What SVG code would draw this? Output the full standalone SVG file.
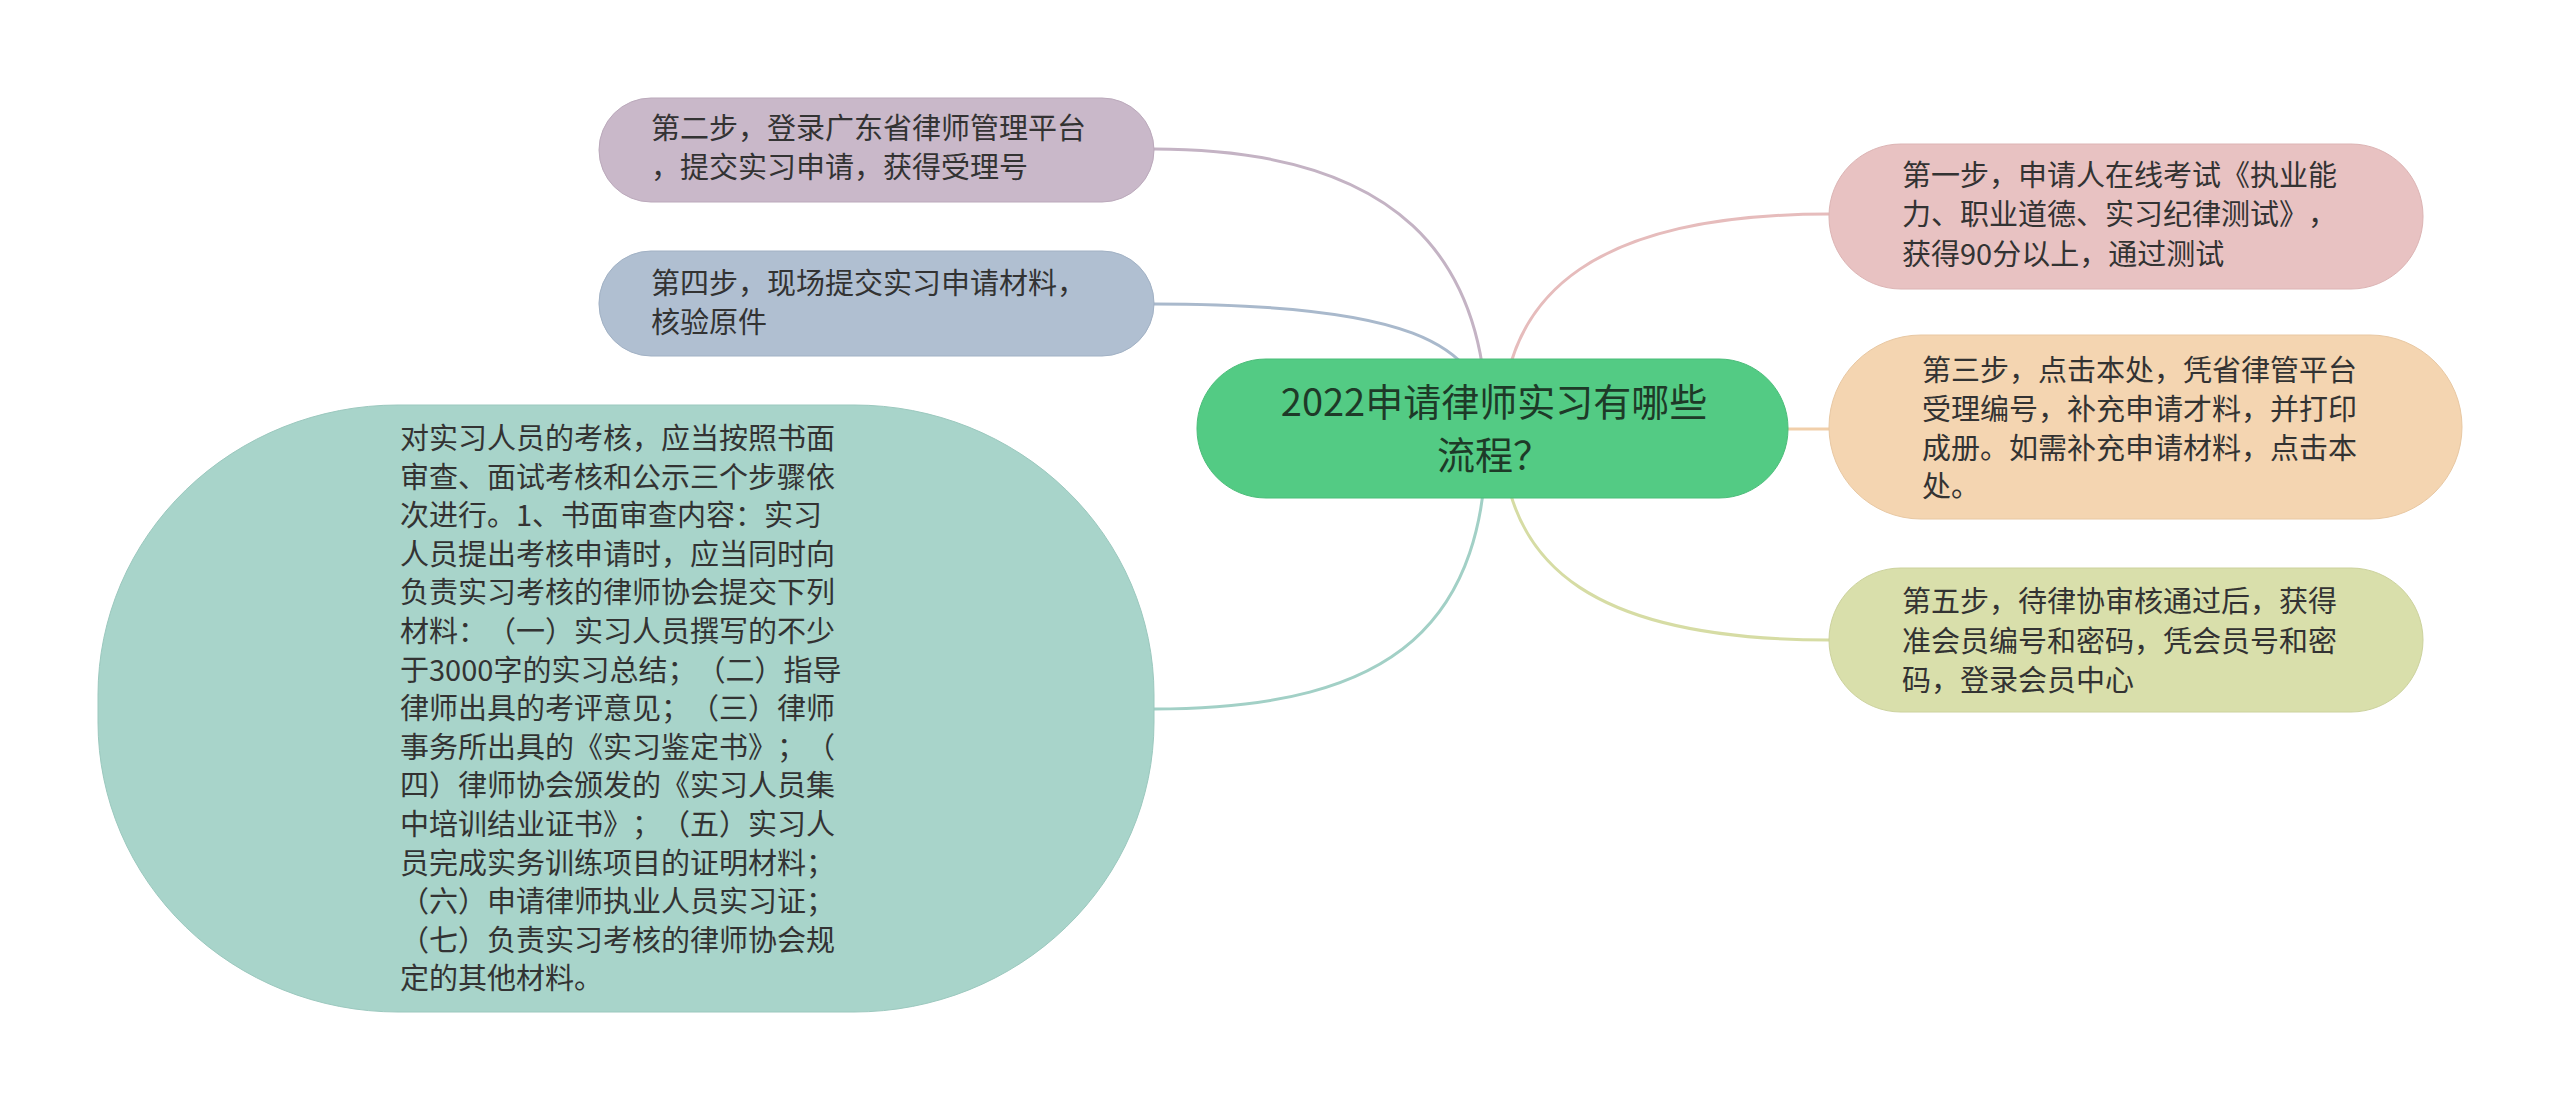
<svg xmlns="http://www.w3.org/2000/svg" width="2560" height="1109" viewBox="0 0 2560 1109">
<style>
text{text-spacing-trim:space-all;font-feature-settings:"chws" 0,"halt" 0;}
.t{font-family:"Noto Sans CJK SC","Noto Sans",sans-serif;font-size:29px;fill:#333333;}
.r{font-family:"Noto Sans CJK SC","Noto Sans",sans-serif;font-size:38px;fill:#1e3a28;text-anchor:middle;}
.c{fill:none;stroke-width:3;}
</style>
<rect x="0" y="0" width="2560" height="1109" fill="#ffffff"/>
<g id="connectors">
<path class="c" stroke="#c4b3c4" d="M1487,429 C1487,260 1400,149 1154,149"/>
<path class="c" stroke="#a9b9cc" d="M1487,429 C1487,340 1400,304 1154,304"/>
<path class="c" stroke="#a2d0c6" d="M1487,429 C1487,620 1400,709 1154,709"/>
<path class="c" stroke="#e6bcbc" d="M1502,429 C1502,290 1600,214 1829,214"/>
<path class="c" stroke="#f1cfaa" d="M1502,429 L1829,429"/>
<path class="c" stroke="#d6dca4" d="M1502,429 C1502,570 1600,640 1829,640"/>
</g>
<g id="node-step2">
<rect x="599" y="98" width="555" height="104" rx="52" ry="52" fill="#c9b8c9" stroke="#bba9bb" stroke-width="1"/>
<text class="t" x="651" y="139">第二步，登录广东省律师管理平台</text>
<text class="t" x="651" y="178">，提交实习申请，获得受理号</text>
</g>
<g id="node-step4">
<rect x="599" y="251" width="555" height="105" rx="52" ry="52" fill="#b0bfd1" stroke="#a1b1c4" stroke-width="1"/>
<text class="t" x="651" y="294">第四步，现场提交实习申请材料，</text>
<text class="t" x="651" y="333">核验原件</text>
</g>
<g id="node-review">
<rect x="98" y="405" width="1056" height="607" rx="300" ry="290" fill="#a8d4ca" stroke="#9bc8be" stroke-width="1"/>
<text class="t" x="400" y="449">对实习人员的考核，应当按照书面</text>
<text class="t" x="400" y="488">审查、面试考核和公示三个步骤依</text>
<text class="t" x="400" y="526">次进行。1、书面审查内容：实习</text>
<text class="t" x="400" y="565">人员提出考核申请时，应当同时向</text>
<text class="t" x="400" y="603">负责实习考核的律师协会提交下列</text>
<text class="t" x="400" y="642">材料：（一）实习人员撰写的不少</text>
<text class="t" x="400" y="681">于3000字的实习总结；（二）指导</text>
<text class="t" x="400" y="719">律师出具的考评意见；（三）律师</text>
<text class="t" x="400" y="758">事务所出具的《实习鉴定书》；（</text>
<text class="t" x="400" y="796">四）律师协会颁发的《实习人员集</text>
<text class="t" x="400" y="835">中培训结业证书》；（五）实习人</text>
<text class="t" x="400" y="874">员完成实务训练项目的证明材料；</text>
<text class="t" x="400" y="912">（六）申请律师执业人员实习证；</text>
<text class="t" x="400" y="951">（七）负责实习考核的律师协会规</text>
<text class="t" x="400" y="989">定的其他材料。</text>
</g>
<g id="node-root">
<rect x="1197" y="359" width="591" height="139" rx="69" ry="69" fill="#53cb84" stroke="#4bbd79" stroke-width="1"/>
<text class="r" x="1494" y="416">2022申请律师实习有哪些</text>
<text class="r" x="1494" y="469">流程？</text>
</g>
<g id="node-step1">
<rect x="1829" y="144" width="594" height="145" rx="72" ry="72" fill="#e8c2c2" stroke="#dcb4b4" stroke-width="1"/>
<text class="t" x="1902" y="186">第一步，申请人在线考试《执业能</text>
<text class="t" x="1902" y="225">力、职业道德、实习纪律测试》，</text>
<text class="t" x="1902" y="265">获得90分以上，通过测试</text>
</g>
<g id="node-step3">
<rect x="1829" y="335" width="633" height="184" rx="92" ry="92" fill="#f4d5b1" stroke="#e8c8a3" stroke-width="1"/>
<text class="t" x="1922" y="381">第三步，点击本处，凭省律管平台</text>
<text class="t" x="1922" y="420">受理编号，补充申请才料，并打印</text>
<text class="t" x="1922" y="459">成册。如需补充申请材料，点击本</text>
<text class="t" x="1922" y="497">处。</text>
</g>
<g id="node-step5">
<rect x="1829" y="568" width="594" height="144" rx="72" ry="72" fill="#d9dfab" stroke="#ccd29d" stroke-width="1"/>
<text class="t" x="1902" y="612">第五步，待律协审核通过后，获得</text>
<text class="t" x="1902" y="652">准会员编号和密码，凭会员号和密</text>
<text class="t" x="1902" y="691">码，登录会员中心</text>
</g>
</svg>
